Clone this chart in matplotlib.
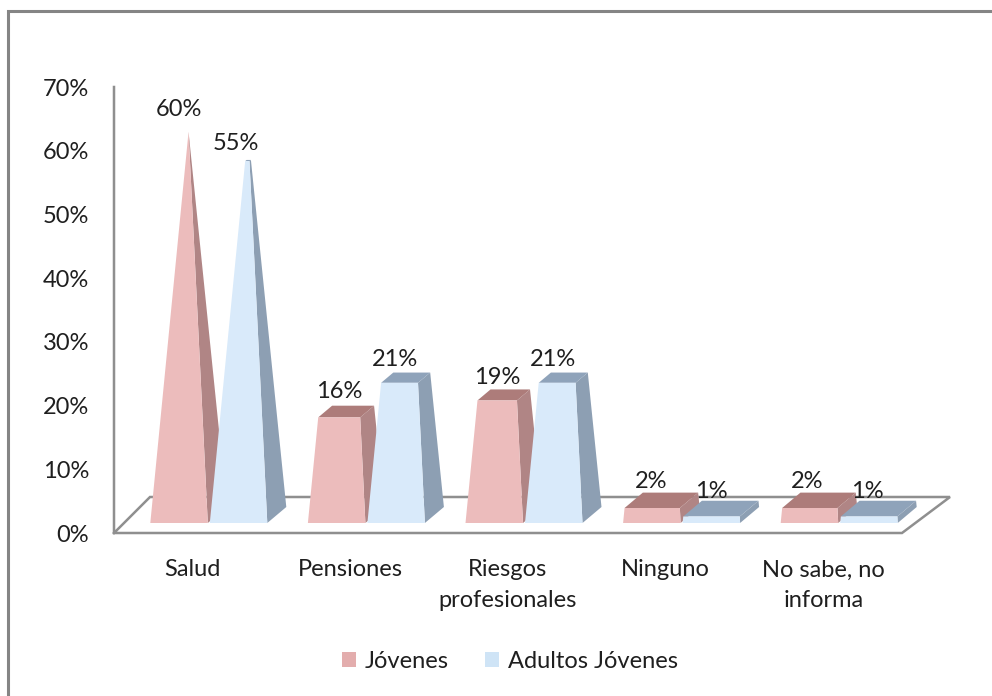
import numpy as np
import matplotlib
matplotlib.use("Agg")
import matplotlib.pyplot as plt
from matplotlib.patches import Polygon, Patch
from matplotlib.lines import Line2D

categories = ["Salud", "Pensiones", "Riesgos\nprofesionales", "Ninguno", "No sabe, no\ninforma"]
jovenes = [60, 16, 19, 2, 2]
adultos = [55, 21, 21, 1, 1]
jovenes_drawn = [60, 16.2, 18.8, 2.3, 2.3]
adultos_drawn = [55.5, 21.5, 21.5, 1.0, 1.0]
yticks = [0, 10, 20, 30, 40, 50, 60, 70]

W, H = 992, 696
plt.rcParams["font.family"] = ["Lato", "DejaVu Sans"]
fig = plt.figure(figsize=(W / 100, H / 100), dpi=100, facecolor="white")

x0, x1, ybot, ytop = 114, 902, 533, 87
ax = fig.add_axes([x0 / W, 1 - ybot / H, (x1 - x0) / W, (ybot - ytop) / H])
ax.set_xlim(-0.5, 4.5)
ax.set_ylim(0, 70)
ax.patch.set_alpha(0)
for s in ax.spines.values():
    s.set_visible(False)

ux = (x1 - x0) / 5          # pixels per category
uy = (ybot - ytop) / 70     # pixels per percent
LINE = "#8f8f8f"
TXT = "#1f1f1f"
fs = 17

# floor of the 3-D box
fdx, fdy = 36 / ux, 36 / uy
ax.plot([-0.5, -0.5, 4.5, 4.5 + 48 / ux, -0.5 + fdx, -0.5], [70, 0, 0, fdy, fdy, 0],
        color=LINE, lw=1.8, clip_on=False, zorder=1, solid_joinstyle="miter")

# truncated pyramids
bw = 57.5 / ux
front_dx, front_dy = 16 / ux, 10 / uy
depth_x, depth_y = 19 / ux, 16 / uy
kv = 6.52 / uy             # height of one percent on the front of a pyramid
vmax = 60


def frustum(cat, off, v, face, side, top, z):
    xl = cat + front_dx + off
    xr = xl + bw
    yb = front_dy
    ax_x = (xl + xr) / 2 + depth_x / 2
    ax_y = yb + kv * vmax
    t = v / vmax

    def lerp(px, py):
        return px + (ax_x - px) * t, py + (ax_y - py) * t

    fl = lerp(xl, yb)
    fr = lerp(xr, yb)
    br = lerp(xr + depth_x, yb + depth_y)
    bl = lerp(xl + depth_x, yb + depth_y)
    ax.add_patch(Polygon([(xr, yb), (xr + depth_x, yb + depth_y), br, fr], fc=side, ec="none", zorder=z, clip_on=False))
    ax.add_patch(Polygon([fl, fr, br, bl], fc=top, ec="none", zorder=z, clip_on=False))
    ax.add_patch(Polygon([(xl, yb), (xr, yb), fr, fl], fc=face, ec="none", zorder=z, clip_on=False))


RED = ("#ecbcbc", "#b08585", "#ad7c7a")
BLUE = ("#d9eafa", "#8d9fb3", "#8fa3ba")
gap = 1 / ux
for i, (a, b) in enumerate(zip(jovenes_drawn, adultos_drawn)):
    frustum(i, -bw - gap, a, *RED, 2 + i * 2)
    frustum(i, gap, b, *BLUE, 3 + i * 2)

# value labels
lab_j = [(179, 110), (339, 392), (497, 378), (651, 482), (807, 482)]
lab_a = [(236, 144), (395, 360), (553, 360), (711, 492), (867, 492)]
for i, v in enumerate(jovenes):
    px, py = lab_j[i]
    ax.text((px - x0) / ux - 0.5, (ybot - py) / uy, f"{v}%", ha="center", va="center",
            fontsize=fs, color=TXT, zorder=30, clip_on=False)
for i, v in enumerate(adultos):
    px, py = lab_a[i]
    ax.text((px - x0) / ux - 0.5, (ybot - py) / uy, f"{v}%", ha="center", va="center",
            fontsize=fs, color=TXT, zorder=30, clip_on=False)

# axes text
ax.set_yticks(yticks)
ax.set_yticklabels([f"{t}%" for t in yticks], fontsize=fs, color=TXT)
ax.set_xticks(range(5))
ax.set_xticklabels(categories, fontsize=fs, color=TXT, linespacing=1.55)
ax.tick_params(axis="both", length=0)
ax.tick_params(axis="y", pad=18)
ax.tick_params(axis="x", pad=19)

handles = [Patch(fc="#e3adad", ec="none", label="Jóvenes"),
           Patch(fc="#cfe4f6", ec="none", label="Adultos Jóvenes")]
fig.legend(handles=handles, loc="center", bbox_to_anchor=(510 / W, 1 - 661 / H), ncol=2, frameon=False,
           fontsize=fs, handlelength=0.6, handleheight=0.6, handletextpad=0.35, columnspacing=1.55,
           labelcolor=TXT)

# outer frame (left and top edges are the visible ones in the source)
fig.add_artist(Line2D([8 / W, 8 / W, 992 / W], [0, 1 - 11 / H, 1 - 11 / H], transform=fig.transFigure,
                      color="#858585", lw=2.2, solid_joinstyle="miter"))

fig.savefig("out.png", dpi=100)
